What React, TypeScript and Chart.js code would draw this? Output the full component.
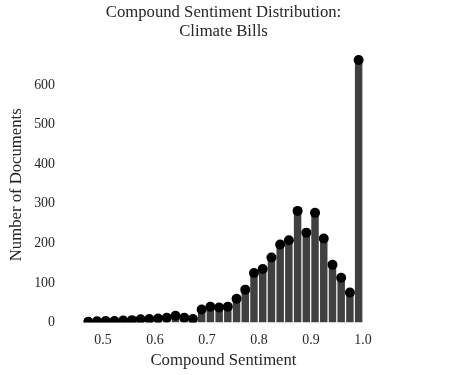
import React, { useEffect, useRef } from "react";
import { Chart, registerables } from "chart.js";

Chart.register(...registerables);

// Histogram bin centers (compound sentiment)
const binCenters = [
  0.4717, 0.4885, 0.5052, 0.522, 0.5388, 0.5556, 0.5723, 0.5891, 0.6059, 0.6226,
  0.6394, 0.6562, 0.6729, 0.6897, 0.7065, 0.7233, 0.74, 0.7568, 0.7736, 0.7903,
  0.8071, 0.8239, 0.8407, 0.8574, 0.8742, 0.891, 0.9077, 0.9245, 0.9413, 0.958,
  0.9748, 0.9916,
];
// Number of documents per bin
const counts = [
  2, 3, 4, 4, 5, 6, 8, 9, 10, 12,
  17, 12, 9, 33, 40, 38, 40, 60, 83, 125,
  135, 164, 197, 208, 282, 227, 277, 212, 146, 113,
  76, 663,
];
const xTicks = [0.5, 0.6, 0.7, 0.8, 0.9, 1.0];
const yTicks = [0, 100, 200, 300, 400, 500, 600];

const titleLines = ["Compound Sentiment Distribution:", "Climate Bills"];
const xTitle = "Compound Sentiment";
const yTitle = "Number of Documents";

const FONT = "'Liberation Serif', 'Times New Roman', serif";
const TEXT = "#262626";

export default function App() {
  const ref = useRef<HTMLCanvasElement | null>(null);

  useEffect(() => {
    if (!ref.current) return;
    const pts = binCenters.map((x, i) => ({ x, y: counts[i] }));
    const chart = new Chart(ref.current, {
      type: "bar",
      data: {
        datasets: [
          {
            type: "line",
            data: pts,
            showLine: false,
            pointRadius: 5,
            pointHoverRadius: 5,
            pointBackgroundColor: "#000000",
            pointBorderWidth: 0,
            borderColor: "#000000",
            order: 0,
            clip: { left: 10, right: 10, top: 10, bottom: 0 },
          } as any,
          {
            type: "bar",
            data: pts,
            backgroundColor: "#404040",
            borderWidth: 0,
            barPercentage: 0.86,
            categoryPercentage: 1,
            order: 1,
          } as any,
        ],
      },
      options: {
        animation: false,
        responsive: true,
        maintainAspectRatio: false,
        layout: { padding: { left: 0, right: 26, top: 0, bottom: 0 } },
        plugins: {
          legend: { display: false },
          tooltip: { enabled: false },
          title: {
            display: true,
            text: titleLines,
            color: TEXT,
            font: { family: FONT, size: 16.7, weight: "normal", lineHeight: 1.12 },
            padding: { top: 3.6, bottom: 6 },
          },
        },
        scales: {
          x: {
            type: "linear",
            offset: false,
            min: 0.4365,
            max: 1.0269,
            grid: { display: false, drawTicks: false, offset: false },
            border: { display: false },
            afterBuildTicks: (scale: any) => {
              scale.ticks = xTicks.map((v) => ({ value: v }));
            },
            afterFit: (scale: any) => {
              scale.height = 52.5;
              scale.paddingLeft = 0;
              scale.paddingRight = 0;
            },
            ticks: {
              color: TEXT,
              padding: 10,
              font: { family: FONT, size: 13.9 },
              callback: (v: any) => Number(v).toFixed(1),
            },
            title: {
              display: true,
              text: xTitle,
              color: TEXT,
              font: { family: FONT, size: 16.7 },
              padding: { top: 0, bottom: 4 },
            },
          },
          y: {
            type: "linear",
            position: "left",
            min: 0,
            max: 696,
            grid: { display: false, drawTicks: false },
            border: { display: false },
            afterBuildTicks: (scale: any) => {
              scale.ticks = yTicks.map((v) => ({ value: v }));
            },
            afterFit: (scale: any) => {
              scale.width = 70;
              scale.paddingTop = 0;
              scale.paddingBottom = 0;
            },
            ticks: {
              color: TEXT,
              padding: 15,
              font: { family: FONT, size: 13.9 },
              callback: (v: any) => String(v),
            },
            title: {
              display: true,
              text: yTitle,
              color: TEXT,
              font: { family: FONT, size: 16.7 },
              padding: { top: 7, bottom: 0 },
            },
          },
          yRight: {
            type: "linear",
            position: "right",
            display: true,
            grid: { display: false, drawTicks: false },
            border: { display: false },
            ticks: { display: false },
            title: { display: false },
            afterFit: (scale: any) => {
              scale.width = 70;
              scale.paddingTop = 0;
              scale.paddingBottom = 0;
            },
          },
        },
      },
    });
    return () => chart.destroy();
  }, []);

  return (
    <div style={{ position: "absolute", left: 0, top: 0, width: 473, height: 375, background: "#fff" }}>
      <canvas ref={ref} />
    </div>
  );
}
